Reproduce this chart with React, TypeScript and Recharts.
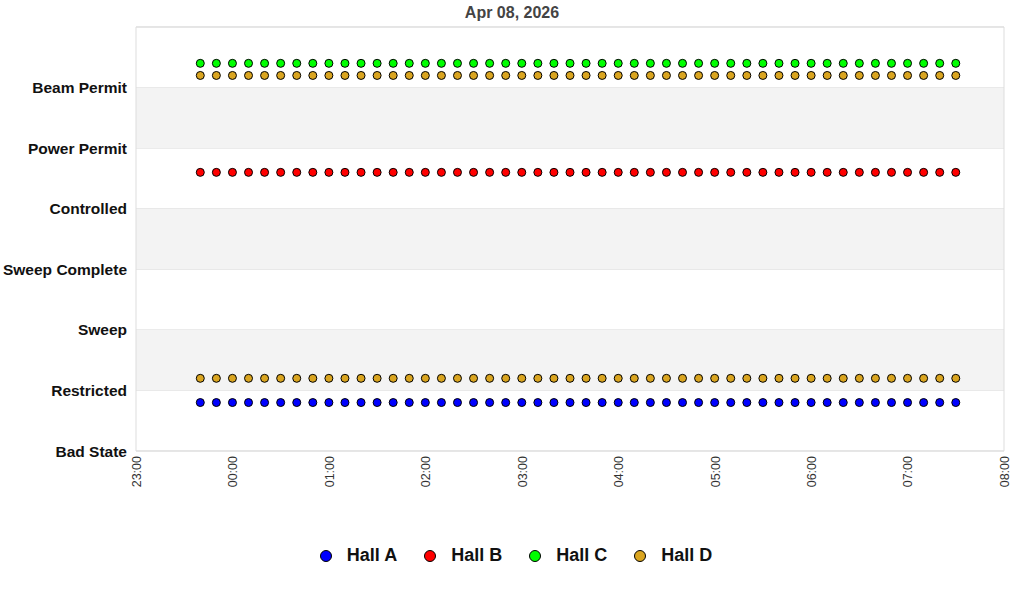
import {
  ScatterChart,
  Scatter,
  XAxis,
  YAxis,
  CartesianGrid,
  ReferenceArea,
  Legend,
} from 'recharts';

// Sample times (HH:MM), every 10 minutes, starting just after 23:00
const sampleTimes = [
  '23:40', '23:50', '00:00', '00:10', '00:20', '00:30', '00:40', '00:50',
  '01:00', '01:10', '01:20', '01:30', '01:40', '01:50', '02:00', '02:10',
  '02:20', '02:30', '02:40', '02:50', '03:00', '03:10', '03:20', '03:30',
  '03:40', '03:50', '04:00', '04:10', '04:20', '04:30', '04:40', '04:50',
  '05:00', '05:10', '05:20', '05:30', '05:40', '05:50', '06:00', '06:10',
  '06:20', '06:30', '06:40', '06:50', '07:00', '07:10', '07:20', '07:30',
];

// Plotted state level(s) per hall (offset within the state band)
const hallALevels = [0.8];
const hallBLevels = [4.6];
const hallCLevels = [6.4];
const hallDLevels = [1.2, 6.2];

const stateLabels = [
  'Bad State',
  'Restricted',
  'Sweep',
  'Sweep Complete',
  'Controlled',
  'Power Permit',
  'Beam Permit',
];

const xTickLabels = [
  '23:00', '00:00', '01:00', '02:00', '03:00',
  '04:00', '05:00', '06:00', '07:00', '08:00',
];

const HALLS = [
  { name: 'Hall A', color: '#0000ff', levels: hallALevels },
  { name: 'Hall B', color: '#ff0000', levels: hallBLevels },
  { name: 'Hall C', color: '#00ff00', levels: hallCLevels },
  { name: 'Hall D', color: '#daa520', levels: hallDLevels },
];

/** minutes since 23:00 */
function toMinutes(hhmm: string): number {
  const [h, m] = hhmm.split(':').map(Number);
  const hh = h >= 23 ? h - 23 : h + 1;
  return hh * 60 + m;
}

const FONT = '"Liberation Sans", Arial, sans-serif';

function Dot(props: any) {
  const { cx, cy, fill } = props;
  if (cx == null || cy == null) return null;
  return <circle cx={cx} cy={cy} r={4} fill={fill} stroke="#000" strokeWidth={1} />;
}

function LegendContent() {
  return (
    <div
      style={{
        display: 'flex',
        justifyContent: 'center',
        alignItems: 'center',
        fontFamily: FONT,
        fontWeight: 'bold',
        fontSize: 18,
        color: '#111',
        paddingLeft: 27,
      }}
    >
      {HALLS.map(h => (
        <div key={h.name} style={{ display: 'flex', alignItems: 'center', margin: '0 13px' }}>
          <svg width={14} height={14} style={{ marginRight: 14 }}>
            <circle cx={7} cy={7} r={5.5} fill={h.color} stroke="#000" strokeWidth={1} />
          </svg>
          <span>{h.name}</span>
        </div>
      ))}
    </div>
  );
}

export default function App() {
  const series = HALLS.map(h => ({
    ...h,
    data: h.levels.flatMap(level =>
      sampleTimes.map(t => ({ x: toMinutes(t), y: level })),
    ),
  }));

  return (
    <div style={{ position: 'absolute', left: 0, top: 0, width: 1024, height: 600, background: '#fff' }}>
      <div
        style={{
          position: 'absolute',
          top: 4,
          left: 0,
          width: 1024,
          textAlign: 'center',
          fontFamily: FONT,
          fontWeight: 'bold',
          fontSize: 16,
          color: '#444',
        }}
      >
        Apr 08, 2026
      </div>
      <ScatterChart
        width={1024}
        height={600}
        margin={{ top: 27, right: 20, left: 0, bottom: 34 }}
      >
        {[1, 3, 5].map(y => (
          <ReferenceArea key={y} y1={y} y2={y + 1} fill="#f3f3f3" fillOpacity={1} stroke="none" />
        ))}
        <CartesianGrid vertical={false} stroke="#dddddd" />
        <ReferenceArea
          x1={0}
          x2={540}
          y1={0}
          y2={7}
          fill="none"
          stroke="#dddddd"
          strokeOpacity={1}
        />
        <XAxis
          type="number"
          dataKey="x"
          domain={[0, 540]}
          ticks={xTickLabels.map((_, i) => i * 60)}
          tickFormatter={(v: number) => xTickLabels[Math.round(v / 60)]}
          axisLine={false}
          tickLine={false}
          tickSize={0}
          angle={-90}
          textAnchor="end"
          dx={-4}
          dy={0}
          tickMargin={5}
          height={94}
          interval={0}
          tick={{ fontSize: 12.5, fill: '#333', fontFamily: FONT }}
        />
        <YAxis
          type="number"
          dataKey="y"
          domain={[0, 7]}
          ticks={[0, 1, 2, 3, 4, 5, 6, 7]}
          tickFormatter={(v: number) => stateLabels[v] ?? ''}
          axisLine={false}
          tickLine={false}
          tickSize={0}
          tickMargin={9}
          width={136}
          interval={0}
          tick={{ fontSize: 15.5, fontWeight: 'bold', fill: '#111', fontFamily: FONT }}
        />
        <Legend verticalAlign="bottom" content={<LegendContent />} />
        {series.map(s => (
          <Scatter
            key={s.name}
            name={s.name}
            data={s.data}
            fill={s.color}
            shape={<Dot />}
            isAnimationActive={false}
          />
        ))}
      </ScatterChart>
    </div>
  );
}
